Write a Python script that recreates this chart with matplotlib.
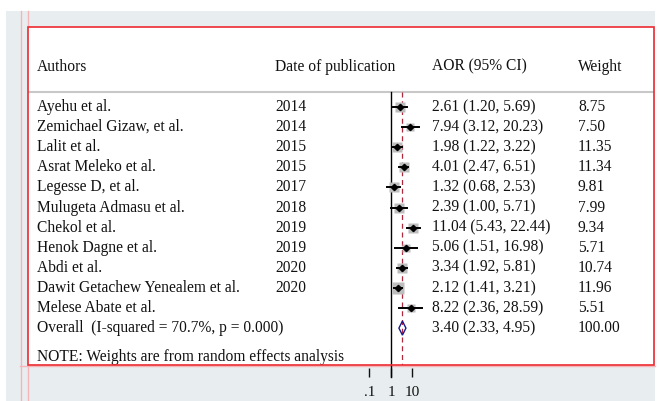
import matplotlib.pyplot as plt
import numpy as np
from matplotlib.patches import Rectangle, Polygon
from matplotlib.lines import Line2D
from matplotlib.ticker import FixedLocator, FixedFormatter, NullLocator

plt.rcParams['font.family'] = ['Liberation Serif', 'DejaVu Serif']

authors = ['Ayehu et al.', 'Zemichael Gizaw, et al.', 'Lalit et al.', 'Asrat Meleko et al.',
           'Legesse D, et al.', 'Mulugeta Admasu et al.', 'Chekol et al.', 'Henok Dagne et al.',
           'Abdi et al.', 'Dawit Getachew Yenealem et al.', 'Melese Abate et al.']
years = ['2014', '2014', '2015', '2015', '2017', '2018', '2019', '2019', '2020', '2020', '']
aor = [2.61, 7.94, 1.98, 4.01, 1.32, 2.39, 11.04, 5.06, 3.34, 2.12, 8.22]
ci_low = [1.20, 3.12, 1.22, 2.47, 0.68, 1.00, 5.43, 1.51, 1.92, 1.41, 2.36]
ci_high = [5.69, 20.23, 3.22, 6.51, 2.53, 5.71, 22.44, 16.98, 5.81, 3.21, 28.59]
weights = [8.75, 7.50, 11.35, 11.34, 9.81, 7.99, 9.34, 5.71, 10.74, 11.96, 5.51]

overall_label = 'Overall  (I-squared = 70.7%, p = 0.000)'
overall = 3.40
overall_low = 2.33
overall_high = 4.95

tick_vals = [0.1, 1, 10]
tick_labels = ['.1', '1', '10']

W, H = 659, 401
fig = plt.figure(figsize=(W / 100, H / 100), dpi=100, facecolor='white')

# grey graph region + pink guide lines
fig.patches.append(Rectangle((6 / W, 0), (655 - 6) / W, (H - 11) / H, transform=fig.transFigure,
                             facecolor='#e8eef0', edgecolor='none', zorder=-2))
for xp in (21, 27.5):
    fig.lines.append(Line2D([xp / W, xp / W], [0, (H - 11) / H], transform=fig.transFigure,
                            color='#f5b5b8', lw=1, zorder=-1))
fig.lines.append(Line2D([20 / W, 655 / W], [(H - 365.5) / H] * 2, transform=fig.transFigure,
                        color='#f5b5b8', lw=1, zorder=-1))

left_px, right_px, top_px, bot_px = 28, 654, 27, 365
ax = fig.add_axes([left_px / W, (H - bot_px) / H, (right_px - left_px) / W, (bot_px - top_px) / H])
ax.set_facecolor('white')

ppd = 21.5  # pixels per decade
x0 = 391
ax.set_xscale('log')
ax.set_xlim(10 ** (-(x0 - left_px) / ppd), 10 ** ((right_px - x0) / ppd))
row0, rstep = 107, 20.1
ax.set_ylim((bot_px - row0) / rstep, (top_px - row0) / rstep)

for s in ax.spines.values():
    s.set_visible(False)
ax.spines['bottom'].set_position(('outward', 2.2))
ax.yaxis.set_major_locator(NullLocator())
ax.xaxis.set_major_locator(FixedLocator(tick_vals))
ax.xaxis.set_major_formatter(FixedFormatter(tick_labels))
ax.xaxis.set_minor_locator(NullLocator())
ax.tick_params(axis='x', length=6.5, width=1, pad=6.5, labelsize=11, colors='#111111')

ax.add_patch(Rectangle((0, 0), 1, 1, transform=ax.transAxes, fill=False,
                       edgecolor='#ee2a30', lw=1.2, clip_on=False, zorder=5))

tr = ax.get_yaxis_transform()
def fx(px):
    return (px - left_px) / (right_px - left_px)

fs = 11.2
tc = '#111111'
hy = -2
ax.text(fx(37), hy, 'Authors', transform=tr, fontsize=fs, va='center', color=tc)
ax.text(fx(275), hy, 'Date of publication', transform=tr, fontsize=fs, va='center', color=tc)
ax.text(fx(432), hy, 'AOR (95% CI)', transform=tr, fontsize=fs, va='center', color=tc)
ax.text(fx(578), hy, 'Weight', transform=tr, fontsize=fs, va='center', color=tc)
ax.axhline(-0.75, color='#c8c8c8', lw=1.5)

ax.plot([1, 1], [-0.75, (377 - row0) / rstep], color='black', lw=1, clip_on=False)
ax.plot([overall, overall], [-0.75, (bot_px - row0) / rstep], color='#b0283c', lw=0.9,
        dashes=(4, 3))

for i in range(len(authors)):
    side = 8.0 * np.sqrt(weights[i] / 11.96)
    ax.plot(aor[i], i, marker='s', ms=side, color='#bdbdbd', mec='none', zorder=3)
    ax.plot([ci_low[i], ci_high[i]], [i, i], color='black', lw=1.4, zorder=4)
    ax.plot(aor[i], i, marker='D', ms=3.2, color='black', zorder=4)
    ax.text(fx(37), i, authors[i], transform=tr, fontsize=fs, va='center', color=tc)
    ax.text(fx(275), i, years[i], transform=tr, fontsize=fs, va='center', color=tc)
    ax.text(fx(432), i, '%.2f (%.2f, %.2f)' % (aor[i], ci_low[i], ci_high[i]),
            transform=tr, fontsize=fs, va='center', color=tc)
    ax.text(fx(578), i, '%.2f' % weights[i], transform=tr, fontsize=fs, va='center', color=tc)

oy = len(authors)
ax.add_patch(Polygon([[overall_low, oy], [overall, oy - 0.35], [overall_high, oy], [overall, oy + 0.35]],
                     closed=True, fill=False, edgecolor='#1a1a8c', lw=1, zorder=4))
ax.text(fx(37), oy, overall_label, transform=tr, fontsize=fs, va='center', color=tc)
ax.text(fx(432), oy, '%.2f (%.2f, %.2f)' % (overall, overall_low, overall_high),
        transform=tr, fontsize=fs, va='center', color=tc)
ax.text(fx(578), oy, '100.00', transform=tr, fontsize=fs, va='center', color=tc)

ax.text(fx(37), (357 - row0) / rstep, 'NOTE: Weights are from random effects analysis',
        transform=tr, fontsize=fs, va='center', color=tc)

fig.savefig('out.png', dpi=100, facecolor=fig.get_facecolor())
